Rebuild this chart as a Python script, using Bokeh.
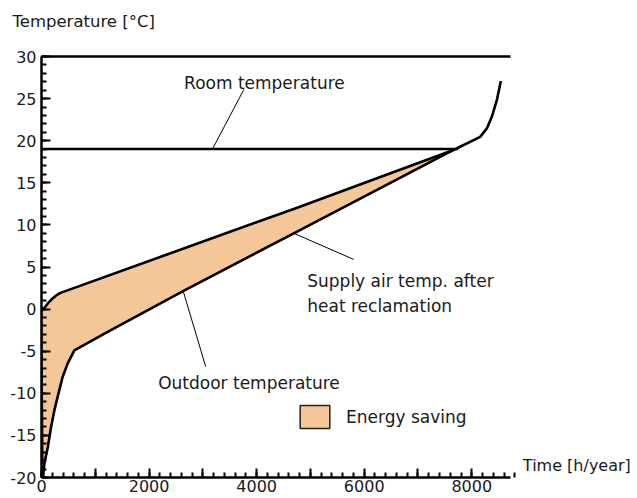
from bokeh.plotting import figure
from bokeh.models import FixedTicker, LinearAxis, Label, Legend, LegendItem, Range1d
from bokeh.embed import file_html
from bokeh.resources import INLINE

# ---------------- data ----------------
room_x = [0, 7750]
room_y = [19, 19]

supply_x = [0, 60, 120, 180, 260, 340, 4690, 7660]
supply_y = [-0.2, 0.2, 0.7, 1.1, 1.55, 1.9, 11.9, 18.9]

outdoor_x = [30, 54, 117, 178, 240, 332, 395, 488, 611, 1230, 2650, 4690, 7660,
             8156, 8280, 8373, 8466, 8541]
outdoor_y = [-19.9, -18.3, -16.4, -14.0, -12.0, -9.6, -8.0, -6.45, -4.9, -2.7, 2.2, 9.0, 18.9,
             20.46, 21.46, 22.84, 24.82, 27.08]

x_ticks = [0, 1000, 2000, 3000, 4000, 5000, 6000, 7000, 8000]
x_tick_labels = ["0", "", "2000", "", "4000", "", "6000", "", "8000"]
x_minor = list(range(0, 8801, 200))
y_ticks = [-20, -15, -10, -5, 0, 5, 10, 15, 20, 25, 30]
y_tick_labels = ["-20", "-15", "-10", "-5", "0", "5", "10", "15", "20", "25", "30"]
y_minor = list(range(-20, 31, 1))

# annotation leader lines: (x0, y0) -> (x1, y1)
lead_x0 = [3764, 4692, 2633]
lead_y0 = [26.1, 9.0, 2.17]
lead_x1 = [3178, 5805, 3054]
lead_y1 = [19.0, 5.9, -6.85]

X_AXIS_END = 8720
Y_MIN, Y_MAX = -20, 30

FONT = "DejaVu Sans"
TXT = "#1a1a1a"
FILL = "#F5C798"

W, H = 637, 498
LEFT, AXIS_RIGHT, TOP, BOTTOM = 41, 510, 56, 477
frame_w = W - LEFT
x_end = X_AXIS_END * frame_w / (AXIS_RIGHT - LEFT)

p = figure(width=W, height=H, x_range=Range1d(0, x_end), y_range=Range1d(Y_MIN, Y_MAX),
           output_backend="svg", toolbar_location=None,
           min_border_left=LEFT, min_border_right=0, min_border_top=TOP,
           min_border_bottom=H - BOTTOM)
p.xgrid.visible = False
p.ygrid.visible = False
p.outline_line_color = None
p.background_fill_color = "white"
p.border_fill_color = "white"

p.xaxis.ticker = FixedTicker(ticks=x_ticks, minor_ticks=x_minor)
p.xaxis.major_label_overrides = {t: l for t, l in zip(x_ticks, x_tick_labels)}
p.xaxis.bounds = (0, X_AXIS_END)
p.yaxis.ticker = FixedTicker(ticks=y_ticks, minor_ticks=y_minor)
p.yaxis.major_label_overrides = {t: l for t, l in zip(y_ticks, y_tick_labels)}

for ax in (p.xaxis[0], p.yaxis[0]):
    ax.axis_line_width = 2.5
    ax.axis_line_color = "black"
    ax.major_tick_in = 9
    ax.major_tick_out = 0
    ax.minor_tick_in = 5
    ax.minor_tick_out = 0
    ax.major_tick_line_width = 2
    ax.minor_tick_line_width = 2
    ax.major_tick_line_color = "black"
    ax.minor_tick_line_color = "black"
    ax.major_label_text_font = FONT
    ax.major_label_text_font_size = "16px"
    ax.major_label_text_color = TXT
p.xaxis.major_label_standoff = 2
p.yaxis.major_label_standoff = 5

top = LinearAxis(ticker=FixedTicker(ticks=[]), major_label_text_font_size="0px",
                 major_tick_in=0, major_tick_out=0, minor_tick_in=0, minor_tick_out=0,
                 axis_line_width=2.5, axis_line_color="black", bounds=(0, X_AXIS_END))
p.add_layout(top, "above")

# y-axis title (trailing empty line lifts it above the frame)
p.title.text = "Temperature [°C]\n"
p.title.align = "left"
p.title.vertical_align = "bottom"
p.title.offset = -29
p.title.standoff = 13
p.title.text_font = FONT
p.title.text_font_size = "16.5px"
p.title.text_font_style = "normal"
p.title.text_color = TXT

# energy saving area between the curves
n = sum(1 for x in outdoor_x if x <= supply_x[-1])
patch_x = supply_x + outdoor_x[:n][::-1]
patch_y = supply_y + outdoor_y[:n][::-1]
area = p.patch(patch_x, patch_y, fill_color=FILL, line_color="#222222", line_width=1.5)

p.line(room_x, room_y, line_color="black", line_width=2.5)
p.line(supply_x, supply_y, line_color="black", line_width=2.6, line_join="round")
p.line(outdoor_x, outdoor_y, line_color="black", line_width=2.6, line_join="round")
p.segment(x0=lead_x0, y0=lead_y0, x1=lead_x1, y1=lead_y1, line_color="black", line_width=1)

def lab(x, y, text, size="17px", align="left", baseline="alphabetic"):
    p.add_layout(Label(x=x, y=y, text=text, text_font=FONT, text_font_size=size,
                       text_color=TXT, text_align=align, text_baseline=baseline))

lab(2651, 26.9, "Room temperature")
lab(4941, 3.33, "Supply air temp. after")
lab(4941, 0.36, "heat reclamation")
lab(2169, -8.8, "Outdoor temperature")
lab(8950, -18.6, "Time [h/year]", size="16px")

legend = Legend(items=[LegendItem(label="Energy saving", renderers=[area])],
                location=(255, 46), padding=0, margin=0, border_line_color=None,
                background_fill_alpha=0, glyph_width=37, glyph_height=29,
                label_standoff=13, label_text_font=FONT, label_text_font_size="17px",
                label_text_color=TXT)
p.add_layout(legend, "center")

open("out.html", "w").write(file_html(p, INLINE))
